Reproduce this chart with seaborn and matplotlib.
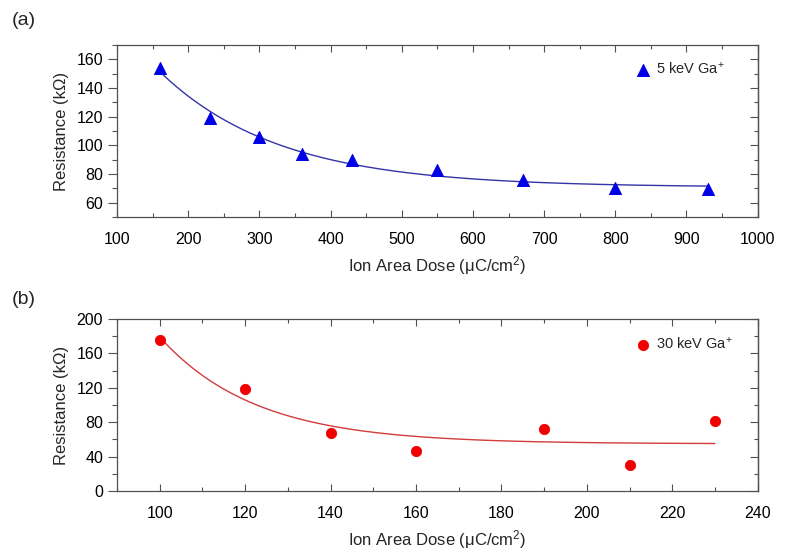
import numpy as np
import pandas as pd
import matplotlib
matplotlib.use("Agg")
import matplotlib.pyplot as plt
from matplotlib.ticker import MultipleLocator
import seaborn as sns

# data
dose_5kev = [160, 230, 300, 360, 430, 550, 670, 800, 930]
res_5kev = [154, 119, 106, 94, 90, 82.5, 75.5, 70, 69.5]
dose_30kev = [100, 120, 140, 160, 190, 210, 230]
res_30kev = [176, 119, 67, 47, 72, 30, 81]


def exp_fit(x, y):
    # y = y0 + A*exp(-x/t), grid search over t, linear lstsq for y0, A
    x = np.asarray(x, float)
    y = np.asarray(y, float)
    best = None
    for t in np.linspace(5, 2000, 4000):
        M = np.column_stack([np.ones_like(x), np.exp(-x / t)])
        coef, *_ = np.linalg.lstsq(M, y, rcond=None)
        err = np.sum((M @ coef - y) ** 2)
        if best is None or err < best[0]:
            best = (err, t, coef)
    _, t, (y0, A) = best
    xs = np.linspace(x.min(), x.max(), 200)
    return xs, y0 + A * np.exp(-xs / t)


sns.set_style("ticks")
plt.rcParams['font.family'] = ['Liberation Sans', 'DejaVu Sans']
plt.rcParams['mathtext.default'] = 'regular'

fig = plt.figure(figsize=(7.88, 5.6), dpi=100)
ax1 = fig.add_axes([0.1485, 0.6125, 0.813, 0.3071])
ax2 = fig.add_axes([0.1485, 0.1232, 0.813, 0.3072])

df1 = pd.DataFrame({'dose': dose_5kev, 'res': res_5kev})
df2 = pd.DataFrame({'dose': dose_30kev, 'res': res_30kev})

fx1, fy1 = exp_fit(dose_5kev, res_5kev)
fx2, fy2 = exp_fit(dose_30kev, res_30kev)

sns.lineplot(x=fx1, y=fy1, ax=ax1, color='#3434a8', lw=1.0)
sns.scatterplot(data=df1, x='dose', y='res', ax=ax1, marker='^', s=75,
                color='#0000e6', edgecolor='#0000e6', label='5 keV Ga$^{+}$', zorder=3)

sns.lineplot(x=fx2, y=fy2, ax=ax2, color='#d23c3c', lw=1.0)
sns.scatterplot(data=df2, x='dose', y='res', ax=ax2, marker='o', s=55,
                color='#f00000', edgecolor='#f00000', label='30 keV Ga$^{+}$', zorder=3)

ax1.set_xlim(100, 1000)
ax1.set_ylim(50, 170)
ax1.xaxis.set_major_locator(MultipleLocator(100))
ax1.xaxis.set_minor_locator(MultipleLocator(50))
ax1.yaxis.set_minor_locator(MultipleLocator(10))
ax1.set_yticks([60, 80, 100, 120, 140, 160])

ax2.set_xlim(90, 240)
ax2.set_ylim(0, 200)
ax2.xaxis.set_minor_locator(MultipleLocator(10))
ax2.yaxis.set_major_locator(MultipleLocator(40))
ax2.yaxis.set_minor_locator(MultipleLocator(20))
ax2.set_xticks([100, 120, 140, 160, 180, 200, 220, 240])

legend_pos = {ax1: (0.809, 0.907), ax2: (0.809, 0.901)}

for ax in (ax1, ax2):
    for sp in ax.spines.values():
        sp.set_visible(True)
        sp.set_color('#505050')
        sp.set_linewidth(0.9)
    ax.tick_params(which='both', colors='#505050', labelcolor='black',
                   labelsize=11.5, width=0.8)
    ax.tick_params(axis='x', which='both', direction='in', top=True, pad=11)
    ax.tick_params(axis='x', which='major', length=5)
    ax.tick_params(axis='x', which='minor', length=3)
    ax.tick_params(axis='y', which='both', direction='out', left=True, pad=3.5)
    ax.tick_params(axis='y', which='major', length=6.5)
    ax.tick_params(axis='y', which='minor', length=3.5)
    # inward ticks on the right spine
    sec = ax.secondary_yaxis('right')
    sec.set_yticks(ax.get_yticks())
    sec.yaxis.set_minor_locator(ax.yaxis.get_minor_locator())
    sec.tick_params(which='both', direction='in', labelright=False, colors='#505050', width=0.8)
    sec.tick_params(which='major', length=6)
    sec.tick_params(which='minor', length=3)
    sec.spines['right'].set_color('#505050')
    sec.spines['right'].set_linewidth(0.9)
    ax.set_ylabel('Resistance (kΩ)', fontsize=12, labelpad=5.5)
    ax.set_xlabel('Ion Area Dose (μC/cm$^{2}$)', fontsize=12, labelpad=5)
    ax.legend(loc='upper left', bbox_to_anchor=legend_pos[ax], frameon=False,
              fontsize=10.5, handlelength=1.0, handletextpad=0.45,
              borderaxespad=0, borderpad=0)

fig.text(0.015, 0.955, '(a)', fontsize=14)
fig.text(0.015, 0.458, '(b)', fontsize=14)

fig.savefig('out.png', dpi=100)
